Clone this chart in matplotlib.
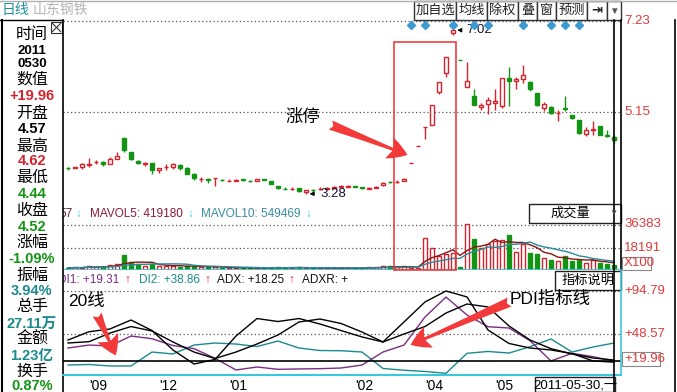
import numpy as np
import pandas as pd
import matplotlib
matplotlib.use("Agg")
import matplotlib.pyplot as plt
from matplotlib.patches import Rectangle, FancyArrowPatch

plt.rcParams["font.family"] = ["Liberation Sans", "Noto Sans CJK SC", "DejaVu Sans"]

# ---- data (山东钢铁, daily bars) ----
opens = [3.88, 3.88, 3.90, 3.94, 4.00, 4.01, 3.97, 4.08, 4.55, 4.23,
         4.03, 3.97, 3.98, 3.82, 3.89, 3.89, 3.94, 3.86, 3.73, 3.61,
         3.62, 3.63, 3.60, 3.57, 3.58, 3.61, 3.58, 3.58, 3.61, 3.57,
         3.46, 3.40, 3.39, 3.41, 3.33, 3.37, 3.38, 3.40, 3.42, 3.44,
         3.44, 3.45, 3.43, 3.40, 3.42, 3.47, 3.55, 3.54, 3.58, 3.98,
         4.38, 4.81, 4.85, 5.60, 6.05, 6.95, 6.34, 5.73, 5.52, 5.26,
         5.33, 5.36, 5.29, 5.92, 5.87, 5.90, 5.83, 5.58, 5.25, 5.26,
         5.12, 5.25, 5.07, 4.97, 4.64, 4.73, 4.83, 4.62, 4.57]
highs = [3.89, 3.89, 3.98, 4.09, 4.05, 4.04, 4.11, 4.24, 4.55, 4.23,
         4.05, 4.01, 3.98, 3.86, 3.96, 3.98, 3.97, 3.89, 3.76, 3.67,
         3.65, 3.64, 3.62, 3.62, 3.61, 3.62, 3.60, 3.62, 3.61, 3.57,
         3.46, 3.44, 3.43, 3.42, 3.37, 3.39, 3.44, 3.44, 3.45, 3.47,
         3.47, 3.46, 3.43, 3.43, 3.45, 3.54, 3.57, 3.60, 3.65, 3.98,
         4.38, 4.81, 5.30, 5.83, 6.41, 7.02, 6.34, 6.29, 5.68, 5.36,
         5.50, 5.68, 5.92, 6.17, 5.94, 6.23, 5.87, 5.58, 5.37, 5.29,
         5.20, 5.52, 5.09, 4.97, 4.81, 4.95, 4.83, 4.74, 4.62]
lows = [3.83, 3.88, 3.85, 3.90, 3.96, 3.92, 3.97, 4.08, 4.24, 4.05,
        3.95, 3.92, 3.74, 3.76, 3.83, 3.85, 3.83, 3.74, 3.60, 3.55,
        3.53, 3.46, 3.57, 3.57, 3.57, 3.58, 3.54, 3.57, 3.59, 3.50,
        3.38, 3.39, 3.36, 3.33, 3.28, 3.33, 3.36, 3.38, 3.40, 3.42,
        3.43, 3.43, 3.40, 3.39, 3.41, 3.46, 3.52, 3.53, 3.57, 3.98,
        4.38, 4.53, 4.85, 5.55, 5.96, 6.92, 6.33, 5.73, 5.30, 5.20,
        5.10, 5.20, 5.25, 5.29, 5.68, 5.81, 5.64, 5.28, 5.17, 5.11,
        4.95, 5.17, 4.98, 4.65, 4.59, 4.62, 4.62, 4.57, 4.44]
closes = [3.87, 3.89, 3.96, 3.95, 4.01, 3.96, 4.07, 4.14, 4.28, 4.08,
          3.99, 3.98, 3.82, 3.86, 3.90, 3.95, 3.88, 3.74, 3.63, 3.62,
          3.59, 3.64, 3.59, 3.58, 3.60, 3.59, 3.57, 3.61, 3.60, 3.51,
          3.42, 3.39, 3.40, 3.34, 3.36, 3.36, 3.40, 3.42, 3.44, 3.46,
          3.46, 3.44, 3.41, 3.42, 3.44, 3.53, 3.54, 3.56, 3.62, 3.98,
          4.38, 4.81, 5.30, 5.83, 6.41, 7.02, 6.33, 5.86, 5.30, 5.30,
          5.42, 5.40, 5.92, 5.87, 5.90, 5.99, 5.68, 5.30, 5.33, 5.13,
          5.13, 5.22, 5.02, 4.68, 4.73, 4.76, 4.63, 4.61, 4.52]
# volume, in units of 100
volume = [1600, 2200, 2000, 3600, 2400, 2700, 3800, 4600, 12100, 6700,
          4900, 3000, 4600, 3500, 3500, 3000, 2700, 3000, 3500, 2200,
          2200, 2200, 1900, 1600, 1800, 1500, 1900, 1400, 1700, 2000,
          2300, 1900, 1700, 2100, 1800, 1500, 1700, 1400, 1600, 1900,
          1500, 1700, 1300, 2200, 2400, 3000, 3000, 2200, 3000, 1900,
          1900, 25600, 17500, 11600, 13200, 14000, 2700, 37200, 25000, 17800,
          21000, 23200, 24200, 28500, 14500, 21000, 13700, 12700, 9900, 8100,
          7300, 11600, 7500, 8100, 5900, 8100, 5700, 5100, 4300]

# DMI lines, read every third bar
dmi_idx = list(range(0, 79, 3))
pdi = [33.5, 36.7, 35.7, 46.4, 43.5, 36.2, 32.8, 22.5, 9.9, 13.1, 10.6, 11.0, 11.3, 12.0,
       15.2, 29.2, 36.7, 66.8, 88.3, 69.0, 56.4, 55.0, 41.4, 19.6, 27.8, 24.2, 19.3]
mdi = [15.2, 15.8, 14.2, 14.2, 29.2, 27.1, 36.7, 38.9, 37.8, 35.1, 41.0, 33.5, 30.8, 30.6,
       29.2, 11.5, 9.6, 8.3, 6.3, 27.8, 29.8, 28.1, 34.9, 43.2, 29.2, 34.6, 38.9]
adx = [42.1, 51.0, 54.0, 63.6, 52.3, 31.4, 16.3, 21.2, 46.4, 65.2, 62.0, 65.2, 59.3, 52.3,
       45.4, 40.0, 61.5, 83.0, 94.8, 88.4, 52.9, 38.4, 33.5, 31.4, 27.6, 19.6, 18.3]
adxr = [38.9, 40.3, 49.6, 56.6, 51.8, 40.0, 29.2, 22.2, 29.2, 37.8, 47.5, 61.5, 64.7, 59.9,
        50.7, 40.0, 48.6, 56.6, 71.1, 80.8, 77.6, 57.2, 42.1, 32.8, 27.1, 22.8, 20.6]

month_pos = [3, 13, 23, 41, 51, 61]
month_lab = ["'09", "'12", "'01", "'02", "'04", "'05"]
info_marks = [49, 51, 55, 58, 60, 65, 69, 71, 73]
price_lines = [7.23, 5.15]
vol_lines = [36383, 18191]
dmi_lines = [94.79, 48.57]
cursor_val = 19.96

info_text = ["时间", "2011", "0530", "数值", "+19.96", "开盘", "4.57", "最高", "4.62",
             "最低", "4.44", "收盘", "4.52", "涨幅", "-1.09%", "振幅", "3.94%",
             "总手", "27.11万", "金额", "1.23亿", "换手", "0.87%"]

RED = "#d6222c"
GREEN = "#149414"
TEAL = "#1b8a8f"
PURPLE = "#7b2c84"
LRED = "#e03a3a"

info_color = ["k", "k", "k", "k", RED, "k", "k", "k", RED, "k", GREEN, "k", GREEN,
              "k", GREEN, "k", TEAL, "k", TEAL, "k", TEAL, "k", GREEN]
info_y = [34.5, 50.5, 63.5, 79, 95.5, 113, 129, 146, 160.5, 177, 193.5, 210.5, 226.7,
          242.5, 259, 275, 291, 306.7, 323.5, 339, 356, 371, 386]

W, H = 677, 392
fig = plt.figure(figsize=(W / 100, H / 100), dpi=100)
fig.patch.set_facecolor("white")


def px_axes(x0, y0, x1, y1):
    return fig.add_axes([x0 / W, 1 - y1 / H, (x1 - x0) / W, (y1 - y0) / H])


def panel(y0, y1, ylim):
    ax = px_axes(63, y0, 621, y1)
    ax.set_xlim(-5 / 7, 553 / 7)
    ax.set_ylim(*ylim)
    ax.set_xticks([])
    ax.set_yticks([])
    for s in ax.spines.values():
        s.set_visible(False)
    ax.patch.set_alpha(0)
    return ax


idx = np.arange(len(closes))
o, h, l, c = (np.array(a) for a in (opens, highs, lows, closes))
up = c >= o
col = np.where(up, RED, GREEN)
fill = np.where(up, "white", GREEN)
dots = (0, (1, 2))

# ---- candles ----
ax_k = panel(20, 205, (3.024, 7.253))
for p in price_lines:
    ax_k.axhline(p, color="#555555", lw=0.9, ls=dots, zorder=1)
ax_k.vlines(idx, l, h, colors=col, lw=1, zorder=2)
ax_k.bar(idx, np.maximum(np.abs(c - o), 0.004), bottom=np.minimum(o, c), width=0.65,
         color=fill, edgecolor=col, linewidth=1, zorder=3)
ax_k.plot(info_marks, [7.15] * len(info_marks), "D", color="#3c9ad2", ms=4.5,
          mec="#3c9ad2", zorder=4)
imax, imin = int(np.argmax(h)), int(np.argmin(l))
ax_k.annotate(f"{h[imax]:.2f}", xy=(imax + 0.2, h[imax]), xytext=(imax + 1.9, h[imax]),
              va="center", fontsize=9.5, color="#111133",
              arrowprops=dict(arrowstyle="-|>", color="k", lw=0.8, mutation_scale=6))
ax_k.annotate(f"{l[imin]:.2f}", xy=(imin + 0.1, l[imin]), xytext=(imin + 2.0, l[imin]),
              va="center", fontsize=9.5, color="#111133",
              arrowprops=dict(arrowstyle="-|>", color="k", lw=0.8, mutation_scale=6))

# ---- volume ----
ax_v = panel(205, 270, (0, 52553))
for v in vol_lines:
    ax_v.axhline(v, color="#555555", lw=0.9, ls=dots, zorder=1)
ax_v.bar(idx, volume, width=0.65, color=fill, edgecolor=col, linewidth=1, zorder=2)
vs = pd.Series(volume)
ax_v.plot(idx, vs.rolling(5, min_periods=1).mean(), color="#8b1414", lw=1, zorder=3)
ax_v.plot(idx, vs.rolling(10, min_periods=1).mean(), color="#2a8a9a", lw=1, zorder=3)
ax_v.axhline(0, color="#3cc8dc", lw=2, zorder=4)

# ---- DMI ----
ax_d = panel(270, 375, (4.5, 117.37))
for v in dmi_lines:
    ax_d.axhline(v, color="#555555", lw=0.9, ls=dots, zorder=1)
ax_d.plot(dmi_idx, mdi, color=TEAL, lw=1)
ax_d.plot(dmi_idx, pdi, color=PURPLE, lw=1)
ax_d.plot(dmi_idx, adxr, color="k", lw=1)
ax_d.plot(dmi_idx, adx, color="k", lw=1)
ax_d.axhline(cursor_val, color="k", lw=1.2)
ax_d.set_xticks(month_pos, month_lab)
ax_d.tick_params(axis="x", length=0, pad=3, labelsize=10)
for t in ax_d.get_xticklabels():
    t.set_ha("left")

# ---- overlay in pixel coordinates ----
ov = fig.add_axes([0, 0, 1, 1], facecolor="none")
ov.set_xlim(0, W)
ov.set_ylim(H, 0)
ov.axis("off")

ov.plot([0, W], [0.5, 0.5], color="#b0b0b0", lw=1)
ov.text(2, 10, "日线", color="#1f8fa0", fontsize=10, va="center")
ov.text(33, 10, "山东钢铁", color="#b4b4b4", fontsize=10, va="center")

# toolbar
btn_x = [414, 456, 487, 518, 537, 556, 587, 607, 621]
btn_t = ["加自选", "均线", "除权", "叠", "窗", "预测", "⇥", "▼"]
for i, t in enumerate(btn_t):
    ov.add_patch(Rectangle((btn_x[i], 0.5), btn_x[i + 1] - btn_x[i], 19.5, fc="white",
                           ec="#333333", lw=1))
    ov.text((btn_x[i] + btn_x[i + 1]) / 2, 10.5, t, ha="center", va="center",
            fontsize=9.5 if t != "▼" else 7, fontweight="bold" if t == "⇥" else "normal",
            color="#222222" if t != "▼" else "#555555")

# info panel
ov.plot([0, 63], [20, 20], color="k", lw=1)
ov.plot([63, 63], [20, H], color="k", lw=1.2)
ov.plot([1.5, 1.5], [20, H], color="k", lw=1.5)
ov.add_patch(Rectangle((51, 22), 11, 11, fc="white", ec="#333333", lw=0.8))
ov.plot([52.5, 60.5], [23.5, 31.5], color="#333333", lw=0.8)
ov.plot([52.5, 60.5], [31.5, 23.5], color="#333333", lw=0.8)
for t, cc, yy in zip(info_text, info_color, info_y):
    cjk = any(ord(ch) > 0x3000 for ch in t[:1])
    ov.text(32, yy, t, ha="center", va="center", color=cc,
            fontsize=11.5 if cjk else (9.5 if t in ("2011", "0530") else 10.5),
            fontweight="normal" if cjk else "bold")

# chart frame, cursor line
ov.plot([621, 621], [20, 270], color="k", lw=1.2)
ov.plot([621, 621], [270, 375], color="#3cc8dc", lw=1.2)
ov.plot([63, 621], [375, 375], color="#3cc8dc", lw=1.5)
xc = 68 + 7 * idx[-1]
ov.plot([xc, xc], [20, H], color="k", lw=1.2)
ov.plot([675, 675], [20, H], color="k", lw=1.2)

# right-hand scale labels
for txt, yy in [("7.23", 21), ("5.15", 112), ("36383", 224), ("18191", 247.5),
                ("+94.79", 291), ("+48.57", 334)]:
    ov.text(624, yy, txt, color=LRED, fontsize=9.5, va="center")
ov.add_patch(Rectangle((622, 257), 29, 12.5, fc="white", ec="#888888", lw=0.8))
ov.text(624, 263, "X100", color=LRED, fontsize=9.5, va="center")
ov.add_patch(Rectangle((622, 352), 38, 14, fc="white", ec="#888888", lw=0.8))
ov.text(624, 359, "+19.96", color=LRED, fontsize=9.5, va="center")

# panel headers
hdr_v = [("57", 59.5, "#5a2030"), ("↓", 75, "#40c8e8"), ("MAVOL5: 419180", 90, "#8b1a3a"),
         ("↓", 187, "#40c8e8"), ("MAVOL10: 549469", 201, "#3a8aa0"), ("↓", 305, "#40c8e8")]
for t, xx, cc in hdr_v:
    ax_v.text(xx, 214, t, transform=ov.transData, color=cc, fontsize=8.5, va="center",
              clip_on=True, fontweight="bold" if t == "↓" else "normal")
hdr_d = [("DI1: +19.31", 58, PURPLE), ("↑", 124, "#e82020"), ("DI2: +38.86", 139, TEAL),
         ("↑", 204, "#e82020"), ("ADX: +18.25", 217, "#111111"), ("↑", 288, "#e82020"),
         ("ADXR: +", 302, "#111111")]
for t, xx, cc in hdr_d:
    ax_d.text(xx, 280, t, transform=ov.transData, color=cc, fontsize=8.5, va="center",
              clip_on=True, fontweight="bold" if t == "↑" else "normal")

ov.add_patch(Rectangle((529, 204), 92, 18.5, fc="white", ec="#222222", lw=1))
ov.text(570, 213.5, "成交量", ha="center", va="center", fontsize=9.5)
ov.text(613, 213.5, "▼", ha="center", va="center", fontsize=6, color="#444444")
ov.add_patch(Rectangle((555, 271), 66, 19, fc="white", ec="#222222", lw=1))
ov.text(588, 280.5, "指标说明", ha="center", va="center", fontsize=9.5)
ov.add_patch(Rectangle((535, 377), 80, 15, fc="white", ec="#222222", lw=1))
ov.text(575, 385.5, "2011-05-30,一", ha="center", va="center", fontsize=9.5)

# annotations added on the screenshot
ov.add_patch(Rectangle((394, 42), 62, 228, fc="none", ec="#ee3030", lw=1.1))
ar = dict(arrowstyle="fancy,head_length=14,head_width=16,tail_width=7",
          color="#f23a3a", mutation_scale=1, lw=0)
ov.add_patch(FancyArrowPatch((328, 124), (410, 156), **ar))
ov.add_patch(FancyArrowPatch((96, 312), (117, 358), **ar))
ov.add_patch(FancyArrowPatch((512, 301), (408, 346), **ar))
ov.text(303, 117, "涨停", ha="center", va="center", fontsize=12.5)
ov.text(86, 301, "20线", ha="center", va="center", fontsize=12.5)
ov.text(550, 299, "PDI指标线", ha="center", va="center", fontsize=12.5)

fig.savefig("out.png", dpi=100)
